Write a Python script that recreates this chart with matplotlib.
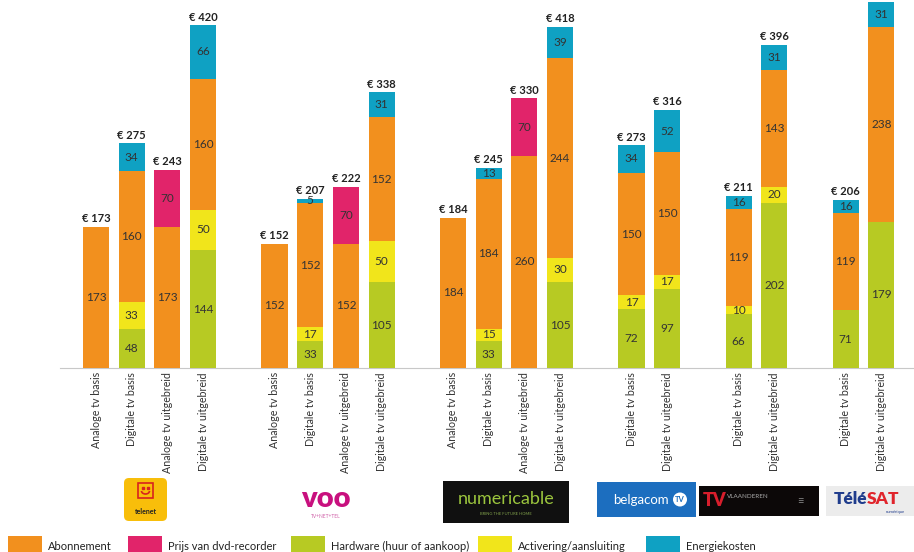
import matplotlib
matplotlib.use("Agg")
import matplotlib.pyplot as plt
from matplotlib.patches import Rectangle, FancyBboxPatch, Arc
import numpy as np

plt.rcParams['font.family'] = ['Lato', 'DejaVu Sans']

# slot index of each bar (empty slot between providers)
slots = [0, 1, 2, 3, 5, 6, 7, 8, 10, 11, 12, 13, 15, 16, 18, 19, 21, 22]
labels = ["Analoge tv basis", "Digitale tv basis", "Analoge tv uitgebreid", "Digitale tv uitgebreid",
          "Analoge tv basis", "Digitale tv basis", "Analoge tv uitgebreid", "Digitale tv uitgebreid",
          "Analoge tv basis", "Digitale tv basis", "Analoge tv uitgebreid", "Digitale tv uitgebreid",
          "Digitale tv basis", "Digitale tv uitgebreid",
          "Digitale tv basis", "Digitale tv uitgebreid",
          "Digitale tv basis", "Digitale tv uitgebreid"]

# stacked bottom -> top
hardware = [0, 48, 0, 144, 0, 33, 0, 105, 0, 33, 0, 105, 72, 97, 66, 202, 71, 179]
activering = [0, 33, 0, 50, 0, 17, 0, 50, 0, 15, 0, 30, 17, 17, 10, 20, 0, 0]
abonnement = [173, 160, 173, 160, 152, 152, 152, 152, 184, 184, 260, 244, 150, 150, 119, 143, 119, 238]
dvd = [0, 0, 70, 0, 0, 0, 70, 0, 0, 0, 70, 0, 0, 0, 0, 0, 0, 0]
energie = [0, 34, 0, 66, 0, 5, 0, 31, 0, 13, 0, 39, 34, 52, 16, 31, 16, 31]

series = [hardware, activering, abonnement, dvd, energie]
colors = ["#B7CA23", "#F1E51B", "#F2901E", "#E1246A", "#0FA1C3"]
legend_names = ["Abonnement", "Prijs van dvd-recorder", "Hardware (huur of aankoop)",
                "Activering/aansluiting", "Energiekosten"]
legend_colors = ["#F2901E", "#E1246A", "#B7CA23", "#F1E51B", "#0FA1C3"]

fig = plt.figure(figsize=(9.14, 5.52), dpi=100)
W, H = 914, 552
# x pixel = 96 + 35.7*slot
x0 = (0 - 96) / 35.7
x1 = (914 - 96) / 35.7
ymax = 368 / 0.8167
ax = fig.add_axes([0, (H - 368) / H, 1, 368 / H])
ax.set_xlim(x0, x1)
ax.set_ylim(0, ymax)
ax.axis("off")

x = np.array(slots, dtype=float)
bottom = np.zeros(len(x))
for vals, col in zip(series, colors):
    vals = np.array(vals, dtype=float)
    ax.bar(x, vals, bottom=bottom, width=0.73, color=col, linewidth=0, zorder=2)
    for xi, b, v in zip(x, bottom, vals):
        if v > 0:
            ax.text(xi, b + v / 2, str(int(v)), ha="center", va="center",
                    fontsize=8.5, color="#333333", zorder=3)
    bottom += vals

# totals (the tallest bar runs to the top edge, its label is cut off in the original)
for xi, tot in zip(x, bottom):
    if tot + 15 < ymax:
        ax.text(xi, tot + 3, "€ %d" % tot, ha="center", va="bottom", fontsize=8,
                fontweight="bold", color="#222222")

# baseline
ax.plot([(60 - 96) / 35.7, x1], [0, 0], color="#c8c8c8", lw=0.8, zorder=1, clip_on=False)

for xi, lab in zip(x, labels):
    ax.text(xi, -5, lab, rotation=90, ha="center", va="top", fontsize=7.7,
            color="#333333", clip_on=False)

# overlay in pixel coordinates for logos + legend
ov = fig.add_axes([0, 0, 1, 1])
ov.set_xlim(0, W)
ov.set_ylim(H, 0)
ov.axis("off")

# telenet
ov.add_patch(FancyBboxPatch((124, 478), 43, 43, boxstyle="round,pad=0,rounding_size=5",
                            fc="#F8BE0A", ec="none"))
ov.add_patch(Rectangle((138, 483), 15, 15, fc="none", ec="#D8231E", lw=1.2))
ov.plot([143, 148], [488, 488], ls="none", marker="s", ms=1.5, color="#D8231E")
ov.add_patch(Arc((145.5, 491), 8, 6, theta1=0, theta2=180, color="#D8231E", lw=1.2))
ov.text(145.5, 511, "telenet", ha="center", va="center", fontsize=5, fontweight="bold", color="#222222")
# voo
ov.text(326, 499, "voo", ha="center", va="center", fontsize=21, fontweight="heavy", color="#C8107E")
ov.text(326, 517, "TV+NET+TEL", ha="center", va="center", fontsize=3.5, color="#D060A8")
# numericable
ov.add_patch(Rectangle((443, 481), 126, 42, fc="#101010", ec="none"))
ov.text(506, 499, "numericable", ha="center", va="center", fontsize=13, color="#9BC53D")
ov.text(506, 514, "BRING THE FUTURE HOME", ha="center", va="center", fontsize=3, color="#7f9f4a")
# belgacom
ov.add_patch(Rectangle((597, 482), 99, 35, fc="#1C6EBF", ec="none"))
ov.text(641, 499.5, "belgacom", ha="center", va="center", fontsize=9.5, color="white")
ov.add_patch(plt.Circle((680, 499.5), 7, fc="white", ec="none"))
ov.text(680, 500, "TV", ha="center", va="center", fontsize=5.5, fontweight="bold", color="#1C6EBF")
# tv vlaanderen
ov.add_patch(Rectangle((699, 486), 120, 30, fc="#0c0808", ec="none"))
ov.text(703, 501, "TV", ha="left", va="center", fontsize=13, fontweight="heavy", color="#D81E2C")
ov.text(727, 497, "VLAANDEREN", ha="left", va="center", fontsize=4.5, color="#aaaaaa")
ov.text(800, 501, "≡", ha="center", va="center", fontsize=8, color="#888888")
# telesat
ov.add_patch(Rectangle((826, 486), 88, 30, fc="#ececec", ec="none"))
ov.text(834, 499, "Télé", ha="left", va="center", fontsize=12.5, fontweight="heavy", color="#1F3C8C")
ov.text(867, 499, "SAT", ha="left", va="center", fontsize=12.5, fontweight="heavy", color="#E0242B")
ov.text(895, 512, "numérique", ha="center", va="center", fontsize=3, color="#1F3C8C")

# legend
leg_x = [8, 128, 291, 478, 646]
for lx, name, col in zip(leg_x, legend_names, legend_colors):
    ov.add_patch(Rectangle((lx, 536), 34, 17, fc=col, ec="none"))
    ov.text(lx + 40, 546, name, ha="left", va="center", fontsize=8, color="#222222")

fig.savefig("out.png", dpi=100)
